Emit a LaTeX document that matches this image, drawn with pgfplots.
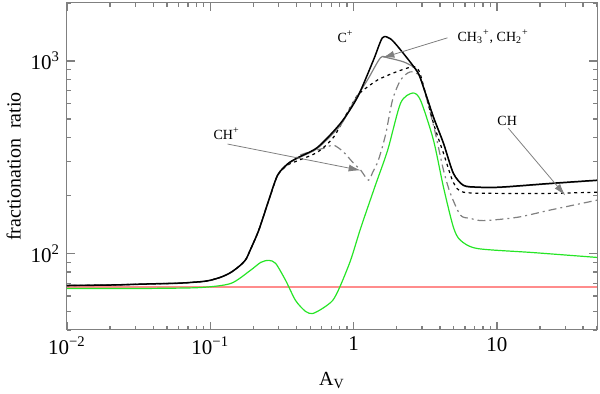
\documentclass[border=0pt]{standalone}
\usepackage{fontspec}
\setmainfont{Liberation Serif}
\usepackage{pgfplots}
\pgfplotsset{compat=1.18}
\usetikzlibrary{arrows.meta}
\definecolor{lgreen}{rgb}{0.15,0.9,0.15}
\definecolor{lred}{rgb}{1,0.55,0.55}
\definecolor{axgray}{gray}{0.5}

\begin{document}
\begin{tikzpicture}
\begin{axis}[
    name=ax,
    scale only axis,
    width=265pt, height=163.5pt,
    xmode=log, ymode=log,
    xmin=0.01, xmax=50, ymin=40, ymax=2000,
    xtick={0.01,0.1,1,10},
    xticklabels={{10\textsuperscript{−2}},{10\textsuperscript{−1}},1,10},
    minor xtick={0.02,0.03,0.04,0.05,0.06,0.07,0.08,0.09,
                 0.2,0.3,0.4,0.5,0.6,0.7,0.8,0.9,2,3,4,5,6,7,8,9,20,30,40,50},
    ytick={100,1000},
    yticklabels={{10\textsuperscript{2}},{10\textsuperscript{3}}},
    minor ytick={40,50,60,70,80,90,200,300,400,500,600,700,800,900,2000},
    axis line style={axgray, line width=0.5pt},
    every tick/.style={axgray, line width=0.7pt},
    major tick length=4pt, minor tick length=2.2pt,
    tick align=inside,
    tick label style={font=\fontsize{10.5}{12}\selectfont},
    xlabel={A\textsubscript{V}},
    ylabel={fractionation\ \ ratio},
    label style={font=\fontsize{10}{12}\selectfont},
    xlabel style={yshift=-2pt},
    ylabel style={yshift=-2pt},
]
% reference level
\addplot[lred, line width=0.7pt] coordinates {(0.01,66.8)(50,66.8)};
% green curve
\addplot[lgreen, line width=0.6pt, smooth, tension=0.45] coordinates {
 (0.01,65.7)(0.02,65.7)(0.04,65.8)(0.086,66.5)(0.139,69.8)(0.19,81.5)(0.225,89.8)
 (0.256,92)(0.286,88.7)(0.336,72.3)(0.394,56.9)(0.463,49.9)(0.518,48.7)(0.608,51.8)
 (0.714,56.9)(0.799,66.5)(0.953,92)(1.12,135)(1.42,226)(1.73,344)(2.13,604)(2.58,681)
 (2.93,626)(3.61,388)(4.24,221)(4.97,137)(5.57,117)(7.31,106)(17.9,101)(50,95.3)};
% CH+ (gray dash-dot)
\addplot[gray, line width=0.6pt, smooth, tension=0.45, dash pattern=on 4pt off 2pt on 1pt off 2pt] coordinates {
 (0.01,68.1)(0.02,68.5)(0.04,69.5)(0.06,70.0)(0.086,71.3)(0.1,72.5)(0.12,75.5)
 (0.139,79.6)(0.16,86)(0.177,93)(0.19,104)(0.218,132)(0.256,189)(0.295,254)
 (0.347,290)(0.427,325)(0.618,352)(0.726,365)(0.852,336)(1.0,294)(1.12,271)(1.27,240)
 (1.36,264)(1.49,305)(1.67,412)(1.87,626)(2.13,796)(2.49,877)(2.93,815)(3.61,464)
 (4.24,271)(4.74,205)(5.57,158)(6.53,152)(8.05,148)(13.9,154)(23.6,168)(50,189)};
% CH (black dotted)
\addplot[black, line width=0.6pt, smooth, tension=0.45, dash pattern=on 1.5pt off 1.8pt] coordinates {
 (0.01,68.1)(0.02,68.5)(0.04,69.5)(0.06,70.0)(0.086,71.3)(0.1,72.5)(0.12,75.5)
 (0.139,79.6)(0.16,86)(0.177,93)(0.19,104)(0.218,132)(0.256,189)(0.295,254)
 (0.347,288)(0.407,303)(0.561,336)(0.726,402)(0.908,542)(1.066,665)(1.17,706)
 (1.47,796)(1.90,866)(2.38,919)(2.70,930)(2.93,846)(3.61,475)(4.24,332)(4.97,234)
 (5.84,208)(10.6,205)(23.6,205)(50,208)};
% CH3+, CH2+ (gray solid)
\addplot[gray, line width=0.6pt, smooth, tension=0.45] coordinates {
 (0.01,68.1)(0.02,68.5)(0.04,69.5)(0.06,70.0)(0.086,71.3)(0.1,72.5)(0.12,75.5)
 (0.139,79.6)(0.16,86)(0.177,93)(0.19,104)(0.218,132)(0.256,189)(0.295,255)
 (0.347,291)(0.407,312)(0.561,352)(0.812,464)(1.0,611)(1.25,796)(1.54,1038)(1.73,1038)
 (2.23,989)(2.62,930)(2.84,866)(3.07,730)(3.61,508)(4.24,372)(4.97,260)(5.84,225)
 (7.31,220)(10.6,220)(23.6,230)(50,239)};
% C+ (black solid)
\addplot[black, line width=0.75pt, smooth, tension=0.45] coordinates {
 (0.01,68.1)(0.02,68.5)(0.04,69.5)(0.06,70.0)(0.086,71.3)(0.1,72.5)(0.12,75.5)
 (0.139,79.6)(0.16,86)(0.177,93)(0.19,104)(0.218,132)(0.256,189)(0.295,255)
 (0.347,292)(0.407,314)(0.561,356)(0.812,475)(1.066,649)(1.378,1012)(1.59,1318)
 (1.81,1303)(2.13,1140)(2.79,877)(3.07,733)(3.61,511)(4.24,374)(4.97,261)(5.84,226)
 (7.31,221)(10.6,221)(23.6,231)(50,240)};

% annotations
\node[font=\fontsize{7}{8}\selectfont] at (axis cs:0.88,1334) {C\textsuperscript{+}};
\node[font=\fontsize{7}{8}\selectfont, anchor=west] at (axis cs:4.75,1330)
  {CH\textsubscript{3}\textsuperscript{+}, CH\textsubscript{2}\textsuperscript{+}};
\draw[gray, line width=0.4pt, -{Latex[length=6pt,width=3.5pt]}]
  (axis cs:4.52,1318) -- (axis cs:1.59,1038);
\node[font=\fontsize{7}{8}\selectfont] at (axis cs:0.130,417) {CH\textsuperscript{+}};
\draw[gray, line width=0.4pt, -{Latex[length=6pt,width=3.5pt]}]
  (axis cs:0.132,370) -- (axis cs:1.12,270);
\node[font=\fontsize{7}{8}\selectfont] at (axis cs:11.8,487) {CH};
\draw[gray, line width=0.4pt, -{Latex[length=6pt,width=3.5pt]}]
  (axis cs:12.0,448) -- (axis cs:30.0,200);
\end{axis}
\pgfresetboundingbox
\path (ax.south west) ++(-33.5pt,-32pt) coordinate (bl);
\path (ax.north east) ++(1.5pt,1.5pt) coordinate (tr);
\path[use as bounding box] (bl) rectangle (tr);
\end{tikzpicture}
\end{document}
